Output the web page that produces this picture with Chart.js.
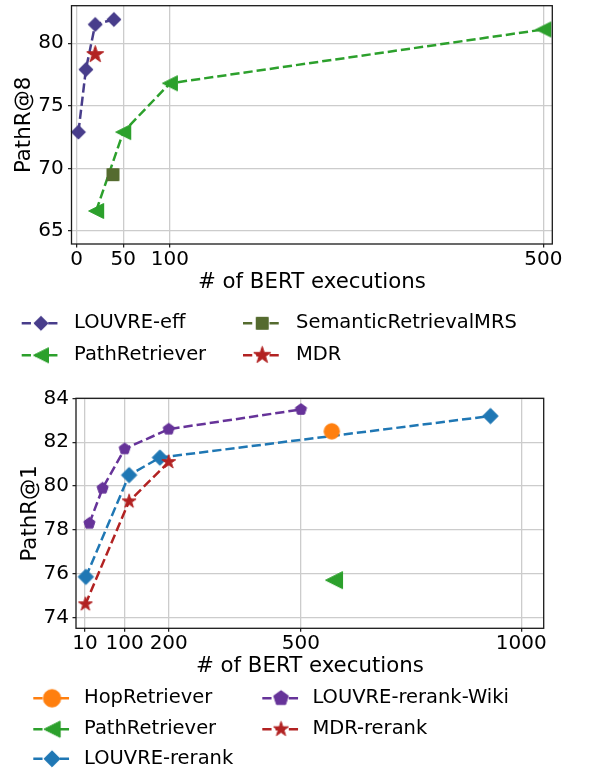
<!DOCTYPE html>
<html>
<head>
<meta charset="utf-8">
<script src="https://cdn.jsdelivr.net/npm/chart.js@4.4.0/dist/chart.umd.min.js"></script>
<style>
  html, body { margin: 0; padding: 0; background: #fff; }
  canvas { display: block; }
</style>
</head>
<body>
<canvas id="topChart" width="590" height="375"></canvas>
<canvas id="bottomChart" width="590" height="396"></canvas>
<script>
// ---- top panel: PathR@8 ----
const topXTicks = [0, 50, 100, 500];
const topYTicks = [65, 70, 75, 80];
const louvreEffX = [2, 10, 20, 40];
const louvreEffY = [72.9, 77.9, 81.5, 81.9];
const pathRetX = [21, 50, 100, 500];
const pathRetY = [66.6, 72.9, 76.8, 81.1];
const semanticX = [39];
const semanticY = [69.5];
const mdrX = [20];
const mdrY = [79.1];

// ---- bottom panel: PathR@1 ----
const botXTicks = [10, 100, 200, 500, 1000];
const botYTicks = [74, 76, 78, 80, 82, 84];
const hopX = [570];
const hopY = [82.5];
const pathRet1X = [575];
const pathRet1Y = [75.7];
const rerankX = [12, 110, 180, 930];
const rerankY = [75.85, 80.5, 81.3, 83.2];
const wikiX = [20, 50, 100, 200, 500];
const wikiY = [78.3, 79.9, 81.7, 82.6, 83.5];
const mdrRerankX = [11, 110, 200];
const mdrRerankY = [74.6, 79.3, 81.1];

const FONT = 'DejaVu Sans';

// matplotlib-like marker drawn once into a small canvas
function markerImage(shape, size, color) {
  const dim = Math.ceil(size * 2 + 4);
  const c = document.createElement('canvas');
  c.width = dim;
  c.height = dim;
  const g = c.getContext('2d');
  const cx = dim / 2, cy = dim / 2;
  const r = size - 0.5;
  g.fillStyle = color;
  g.strokeStyle = color;
  g.lineWidth = 1;
  g.beginPath();
  if (shape === 'circle') {
    g.arc(cx, cy, r, 0, Math.PI * 2);
  } else if (shape === 'diamond') {
    g.moveTo(cx, cy - r); g.lineTo(cx + r, cy); g.lineTo(cx, cy + r); g.lineTo(cx - r, cy);
  } else if (shape === 'square') {
    g.rect(cx - r, cy - r, 2 * r, 2 * r);
  } else if (shape === 'tri_left') {
    g.moveTo(cx - r, cy); g.lineTo(cx + r, cy - r); g.lineTo(cx + r, cy + r);
  } else if (shape === 'star' || shape === 'pentagon') {
    const n = shape === 'star' ? 10 : 5;
    for (let i = 0; i < n; i++) {
      const a = -Math.PI / 2 + i * 2 * Math.PI / n;
      const rr = (shape === 'star' && i % 2 === 1) ? r * 0.382 : r;
      const px = cx + rr * Math.cos(a), py = cy + rr * Math.sin(a);
      if (i === 0) g.moveTo(px, py); else g.lineTo(px, py);
    }
  }
  g.closePath();
  g.fill();
  g.stroke();
  return c;
}

function series(label, xs, ys, color, marker) {
  return {
    label: label,
    data: xs.map((x, i) => ({ x: x, y: ys[i] })),
    showLine: true,
    borderColor: color,
    backgroundColor: color,
    borderWidth: 2.5,
    borderDash: [9.25, 4],
    pointStyle: marker,
    pointRadius: 8,
    pointHoverRadius: 8,
    clip: false
  };
}

// legend drawn like matplotlib (two columns, dashed handle with marker)
function legendPlugin(items, handleLen) {
  return {
    id: 'mplLegend',
    afterDraw(chart) {
      const ctx = chart.ctx;
      const area = chart.chartArea;
      ctx.save();
      // axes frame
      ctx.strokeStyle = '#1a1a1a';
      ctx.lineWidth = 1.3;
      ctx.strokeRect(area.left, area.top, area.right - area.left, area.bottom - area.top);
      items.forEach(it => {
        const ds = chart.data.datasets[it.ds];
        ctx.strokeStyle = ds.borderColor;
        ctx.lineWidth = ds.borderWidth;
        ctx.setLineDash(ds.borderDash);
        ctx.beginPath();
        ctx.moveTo(it.x, it.y);
        ctx.lineTo(it.x + handleLen, it.y);
        ctx.stroke();
        ctx.setLineDash([]);
        const img = it.mk || ds.pointStyle;
        ctx.drawImage(img, it.x + handleLen / 2 - img.width / 2, it.y - img.height / 2);
        ctx.fillStyle = '#000';
        ctx.font = '19.5px "' + FONT + '"';
        ctx.textBaseline = 'middle';
        ctx.textAlign = 'left';
        ctx.fillText(ds.label, it.tx, it.y);
      });
      ctx.restore();
    }
  };
}

function axisOpts(min, max, ticks, size, isX, titleText, titlePad, tickPad) {
  return {
    type: 'linear',
    min: min,
    max: max,
    afterBuildTicks: s => { s.ticks = ticks.map(v => ({ value: v })); },
    afterFit: s => {
      // fixed axis box, and no extra room reserved for edge labels
      if (isX) s.height = size; else s.width = size;
      s.paddingTop = 0; s.paddingBottom = 0; s.paddingLeft = 0; s.paddingRight = 0;
    },
    grid: {
      color: '#cccccc',
      lineWidth: 1.3,
      drawTicks: true,
      tickLength: 3.5,
      tickColor: '#1a1a1a',
      tickWidth: 1.2
    },
    border: { display: false },
    ticks: {
      autoSkip: false,
      maxRotation: 0,
      color: '#000',
      padding: tickPad,
      font: { family: FONT, size: 20 },
      callback: v => String(v)
    },
    title: {
      display: true,
      text: titleText,
      color: '#000',
      font: { family: FONT, size: 21.3 },
      padding: titlePad
    }
  };
}

function makeChart(id, datasets, x, y, padding, plugin) {
  datasets.forEach((d, i) => { d.order = -i; });
  return new Chart(document.getElementById(id), {
    type: 'scatter',
    data: { datasets: datasets },
    options: {
      responsive: false,
      animation: false,
      events: [],
      layout: { padding: padding, autoPadding: false },
      scales: { x: x, y: y },
      plugins: { legend: { display: false }, tooltip: { enabled: false } }
    },
    plugins: [plugin]
  });
}

// ---- top chart ----
const topSets = [
  series('LOUVRE-eff', louvreEffX, louvreEffY, '#483d8b', markerImage('diamond', 7.6, '#483d8b')),
  series('PathRetriever', pathRetX, pathRetY, '#2ca02c', markerImage('tri_left', 8, '#2ca02c')),
  series('SemanticRetrievalMRS', semanticX, semanticY, '#556b2f', markerImage('square', 6.5, '#556b2f')),
  series('MDR', mdrX, mdrY, '#b22222', markerImage('star', 9.5, '#b22222'))
];
makeChart('topChart', topSets,
  axisOpts(-5.4, 509.6, topXTicks, 51.3, true, '# of BERT executions', { top: 0, bottom: 0 }, 0),
  axisOpts(63.96, 83.0, topYTicks, 71.5, false, 'PathR@8', { top: 11.8, bottom: 0 }, 4.3),
  { left: 0, top: 5.7, right: 37.7, bottom: 79.7 },
  legendPlugin([
    { ds: 0, x: 21.7, y: 323.3, tx: 74 },
    { ds: 1, x: 21.7, y: 355.3, tx: 74 },
    { ds: 2, x: 243, y: 323.3, tx: 296 },
    { ds: 3, x: 243, y: 355.3, tx: 296 }
  ], 38.5));

// ---- bottom chart ----
const botSets = [
  series('PathRetriever', pathRet1X, pathRet1Y, '#2ca02c', markerImage('tri_left', 9, '#2ca02c')),
  series('LOUVRE-rerank', rerankX, rerankY, '#1f77b4', markerImage('diamond', 8.2, '#1f77b4')),
  series('LOUVRE-rerank-Wiki', wikiX, wikiY, '#663399', markerImage('pentagon', 6.4, '#663399')),
  series('MDR-rerank', mdrRerankX, mdrRerankY, '#b22222', markerImage('star', 7.8, '#b22222')),
  series('HopRetriever', hopX, hopY, '#ff7f0e', markerImage('circle', 8.2, '#ff7f0e'))
];
makeChart('bottomChart', botSets,
  axisOpts(-10.4, 1050.8, botXTicks, 51.3, true, '# of BERT executions', { top: 0, bottom: 0 }, 0),
  axisOpts(73.5, 84.01, botYTicks, 76, false, 'PathR@1', { top: 18, bottom: 0 }, 3.5),
  { left: 0, top: 23.3, right: 46.3, bottom: 91.4 },
  legendPlugin([
    { ds: 4, x: 33.3, y: 323.3, tx: 84, mk: markerImage('circle', 9.2, '#ff7f0e') },
    { ds: 0, x: 33.3, y: 354.2, tx: 84, mk: markerImage('tri_left', 8.6, '#2ca02c') },
    { ds: 1, x: 33.3, y: 383.8, tx: 84, mk: markerImage('diamond', 8.6, '#1f77b4') },
    { ds: 2, x: 262.3, y: 323.3, tx: 312.4, mk: markerImage('pentagon', 8.2, '#663399') },
    { ds: 3, x: 262.3, y: 354.2, tx: 312.4, mk: markerImage('star', 8.4, '#b22222') }
  ], 37.5));
</script>
</body>
</html>
